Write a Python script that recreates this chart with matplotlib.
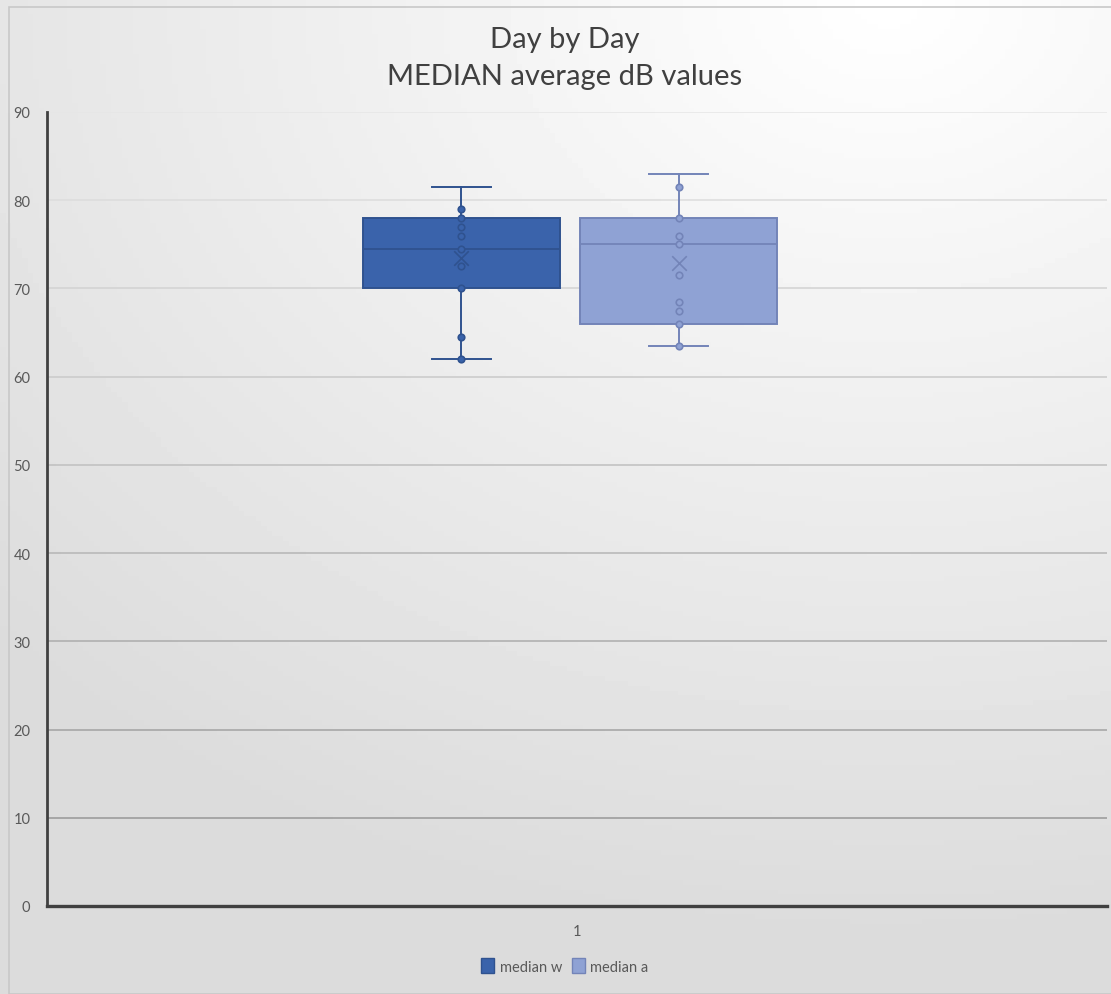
import numpy as np
import matplotlib
matplotlib.use('Agg')
import matplotlib.pyplot as plt
from matplotlib.patches import Rectangle, Patch

plt.rcParams['font.family'] = ['Lato', 'DejaVu Sans']

# data
series = ['median w', 'median a']
pts_w = [62, 64.5, 70, 72.5, 74.5, 76, 77, 78, 79]
pts_a = [63.5, 66, 67.5, 68.5, 71.5, 75, 76, 78, 81.5]
whislo = [62, 63.5]
q1 = [70, 66]
med = [74.5, 75]
q3 = [78, 78]
whishi = [81.5, 83]
means = [73.5, 72.9]
yticks = [0, 10, 20, 30, 40, 50, 60, 70, 80, 90]
xcat = ['1']

fill_cols = ['#3A63AB', '#8FA2D4']
edge_cols = ['#2F528F', '#7384B8']

W, H = 1111, 995
fig = plt.figure(figsize=(W/100, H/100), dpi=100)

# gradient background (light top right, gray bottom)
bg = fig.add_axes([0, 0, 1, 1], zorder=-10)
yy, xx = np.mgrid[0:1:200j, 0:1:200j]
r = np.sqrt(((xx-0.8)*0.9)**2 + (yy*1.05)**2)
vals = np.clip(1.0 - 0.14*r, 0.86, 1.0)
bg.imshow(vals, cmap='gray', vmin=0, vmax=1, extent=[0, 1, 0, 1], aspect='auto', origin='upper')
bg.set_xlim(0, 1); bg.set_ylim(0, 1)
bg.axis('off')
bg.add_patch(Rectangle((8.5/W, 0.5/H), 1.2, 1-8/H-0.5/H, fill=False, ec='#c8c8c8', lw=1.2))

ax = fig.add_axes([47/W, 1-907/H, (1107-47)/W, (907-113)/H])
ax.patch.set_alpha(0)
ax.set_xlim(0, 1)
ax.set_ylim(0, 90)

# gridlines, darker toward the bottom
for t in yticks[1:]:
    g = 0.9 - 0.34*(1 - t/90)
    ax.axhline(t, color=(g, g, g), lw=1.1, zorder=0)

positions = [0.391, 0.596]
stats = []
for i in range(2):
    stats.append(dict(whislo=whislo[i], q1=q1[i], med=med[i], q3=q3[i], whishi=whishi[i], mean=means[i], fliers=[]))

for i in range(2):
    ax.bxp([stats[i]], positions=[positions[i]], widths=0.186, patch_artist=True, showmeans=False,
           boxprops=dict(facecolor=fill_cols[i], edgecolor=edge_cols[i], lw=1.4),
           medianprops=dict(color=edge_cols[i], lw=1.3),
           whiskerprops=dict(color=edge_cols[i], lw=1.4),
           capprops=dict(color=edge_cols[i], lw=1.4), capwidths=0.056, zorder=2)
    pts = [pts_w, pts_a][i]
    ax.scatter([positions[i]]*len(pts), pts, s=22, facecolor=fill_cols[i], edgecolor=edge_cols[i], lw=1.2, zorder=4)
    ax.scatter([positions[i]], [means[i]], marker='x', s=110, color=edge_cols[i], lw=1.2, zorder=5)

ax.set_yticks(yticks)
ax.set_xticks([0.5])
ax.set_xticklabels(xcat)
ax.tick_params(axis='both', length=0, labelsize=10.5, colors='#595959')
ax.tick_params(axis='y', pad=12)
ax.tick_params(axis='x', pad=13)
for s in ['top', 'right']:
    ax.spines[s].set_visible(False)
ax.spines['left'].set_color('#404040')
ax.spines['left'].set_linewidth(2)
ax.spines['bottom'].set_color('#404040')
ax.spines['bottom'].set_linewidth(2.4)

fig.text(565/W, 1-40/H, 'Day by Day', ha='center', va='center', fontsize=21, color='#404040')
fig.text(565/W, 1-77/H, 'MEDIAN average dB values', ha='center', va='center', fontsize=21, color='#404040')

handles = [Patch(facecolor=fill_cols[i], edgecolor=edge_cols[i], label=series[i]) for i in range(2)]
fig.legend(handles=handles, loc='center', bbox_to_anchor=(565/W, 1-967/H), ncol=2, frameon=False,
           fontsize=10.5, labelcolor='#595959', handlelength=0.85, handleheight=1.2, handletextpad=0.4, columnspacing=0.7)

fig.savefig('out.png', dpi=100)
